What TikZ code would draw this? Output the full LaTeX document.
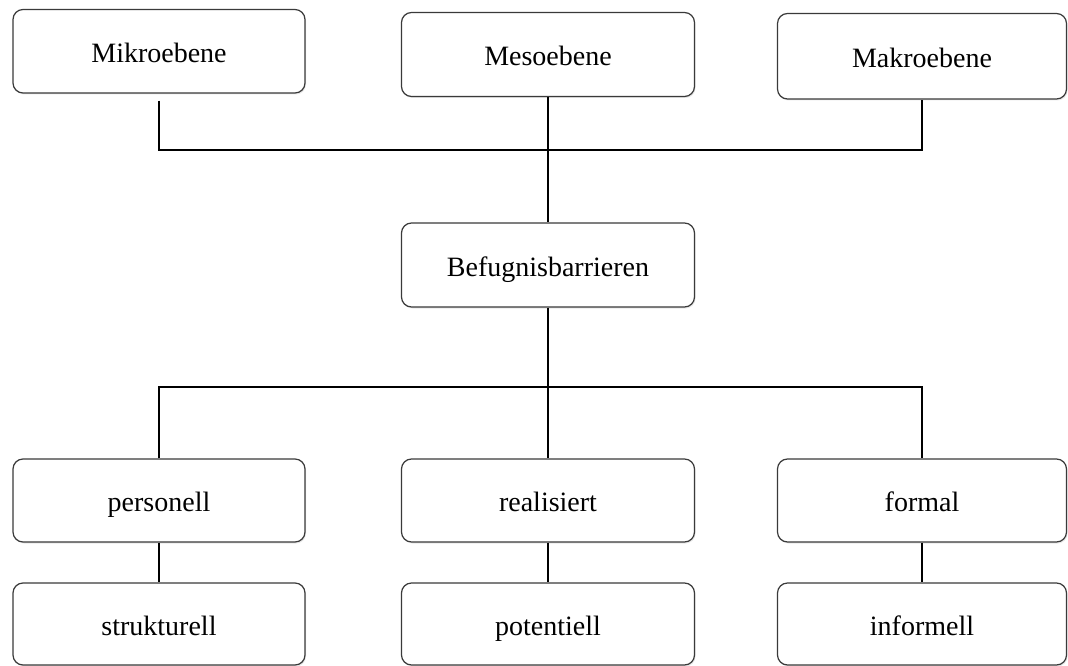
\documentclass[tikz,border=0pt]{standalone}
\usepackage{fontspec}
\setmainfont{Liberation Serif}
\usetikzlibrary{shadows}
\definecolor{boxline}{HTML}{3A3A3A}
\tikzset{
  levelbox/.style={draw=boxline, line width=1.2pt, rounded corners=10pt, fill=white,
    inner sep=0pt, align=center, text height=22pt, text depth=0pt,
    font=\fontsize{28}{33}\selectfont,
    drop shadow={opacity=0.18, shadow xshift=1pt, shadow yshift=-1.5pt}},
  conn/.style={draw=black, line width=2pt}
}
\begin{document}
\begin{tikzpicture}[x=1pt,y=-1pt]
  \useasboundingbox (0,0) rectangle (1068,666);
  % top level
  \node[levelbox, minimum width=292pt, minimum height=83.5pt] (mikro) at (159,51.25) {Mikroebene};
  \node[levelbox, minimum width=293pt, minimum height=84pt] (meso) at (548,54.5) {Mesoebene};
  \node[levelbox, minimum width=289pt, minimum height=85.5pt] (makro) at (922,56.25) {Makroebene};
  % centre
  \node[levelbox, minimum width=293pt, minimum height=84pt] (befug) at (548,265) {Befugnisbarrieren};
  % lower rows
  \node[levelbox, minimum width=292pt, minimum height=83pt] (pers) at (159,500.5) {personell};
  \node[levelbox, minimum width=293pt, minimum height=83pt] (real) at (548,500.5) {realisiert};
  \node[levelbox, minimum width=289pt, minimum height=83pt] (formal) at (922,500.5) {formal};
  \node[levelbox, minimum width=292pt, minimum height=82pt] (strukt) at (159,624) {strukturell};
  \node[levelbox, minimum width=293pt, minimum height=82pt] (pot) at (548,624) {potentiell};
  \node[levelbox, minimum width=289pt, minimum height=82pt] (inf) at (922,624) {informell};
  % junction points of the branch lines
  \coordinate (hubtop) at (548,150);
  \coordinate (hubbot) at (548,387);
  % connectors
  \draw[conn, shorten <=7pt] (mikro.south) |- (hubtop) -| (makro.south);
  \draw[conn] (meso.south) -- (befug.north);
  \draw[conn] (befug.south) -- (real.north);
  \draw[conn] (pers.north) |- (hubbot) -| (formal.north);
  \draw[conn] (pers.south) -- (strukt.north);
  \draw[conn] (real.south) -- (pot.north);
  \draw[conn] (formal.south) -- (inf.north);
\end{tikzpicture}
\end{document}
